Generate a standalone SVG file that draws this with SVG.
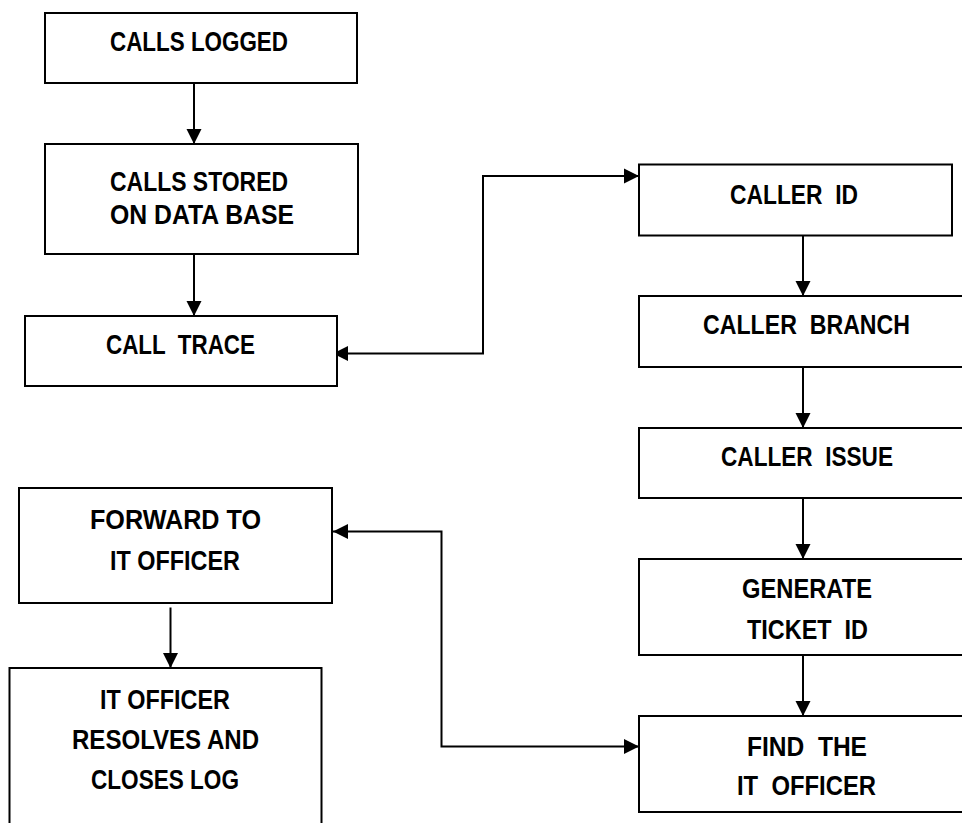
<svg xmlns="http://www.w3.org/2000/svg" width="962" height="823" viewBox="0 0 962 823">
<style>
.box{fill:#fff;stroke:#000;stroke-width:2}
.lbl{font-family:"Liberation Sans",Arial,sans-serif;font-weight:bold;font-size:27px;fill:#000}
.con{fill:none;stroke:#000;stroke-width:2}
</style>
<defs>
<marker id="ah" markerUnits="userSpaceOnUse" markerWidth="16" markerHeight="16" refX="15" refY="8" orient="auto-start-reverse">
<path d="M0,0.5 L15,8 L0,15.5 z" fill="#000"/>
</marker>
</defs>
<rect width="962" height="823" fill="#fff"/>
<g id="connectors">
<line class="con" x1="194" y1="83" x2="194" y2="144" marker-end="url(#ah)"/>
<line class="con" x1="194" y1="254" x2="194" y2="316" marker-end="url(#ah)"/>
<path class="con" d="M333,353.5 H483 V176 H639" marker-start="url(#ah)" marker-end="url(#ah)"/>
<line class="con" x1="803" y1="235.5" x2="803" y2="296" marker-end="url(#ah)"/>
<line class="con" x1="803" y1="367" x2="803" y2="428" marker-end="url(#ah)"/>
<line class="con" x1="803" y1="498" x2="803" y2="559" marker-end="url(#ah)"/>
<line class="con" x1="803" y1="655" x2="803" y2="716" marker-end="url(#ah)"/>
<path class="con" d="M333,531.5 H441.5 V746.5 H639" stroke-width="1.6" marker-start="url(#ah)" marker-end="url(#ah)"/>
<line class="con" x1="170.5" y1="607.5" x2="170.5" y2="668" stroke-width="1.6" marker-end="url(#ah)"/>
</g>
<g id="calls-logged">
<rect class="box" x="45" y="13" width="312" height="70"/>
<text class="lbl" x="110" y="51" textLength="178" lengthAdjust="spacingAndGlyphs">CALLS LOGGED</text>
</g>
<g id="calls-stored">
<rect class="box" x="45" y="144" width="313" height="110"/>
<text class="lbl" x="110" y="191" textLength="178" lengthAdjust="spacingAndGlyphs">CALLS STORED</text>
<text class="lbl" x="110" y="224" textLength="184" lengthAdjust="spacingAndGlyphs">ON DATA BASE</text>
</g>
<g id="call-trace">
<rect class="box" x="25" y="316" width="312" height="70"/>
<text class="lbl" x="106" y="353.5" textLength="149" lengthAdjust="spacingAndGlyphs" xml:space="preserve">CALL  TRACE</text>
</g>
<g id="caller-id">
<rect class="box" x="639" y="164.5" width="313" height="71"/>
<text class="lbl" x="730" y="203.5" textLength="128" lengthAdjust="spacingAndGlyphs" xml:space="preserve">CALLER  ID</text>
</g>
<g id="caller-branch">
<rect class="box" x="639" y="296" width="330" height="71"/>
<text class="lbl" x="703" y="333.5" textLength="207" lengthAdjust="spacingAndGlyphs" xml:space="preserve">CALLER  BRANCH</text>
</g>
<g id="caller-issue">
<rect class="box" x="639" y="428" width="330" height="70"/>
<text class="lbl" x="721" y="466" textLength="172" lengthAdjust="spacingAndGlyphs" xml:space="preserve">CALLER  ISSUE</text>
</g>
<g id="generate-ticket">
<rect class="box" x="639" y="559" width="330" height="96"/>
<text class="lbl" x="742" y="597.5" textLength="130" lengthAdjust="spacingAndGlyphs">GENERATE</text>
<text class="lbl" x="747" y="638.5" textLength="121" lengthAdjust="spacingAndGlyphs" xml:space="preserve">TICKET  ID</text>
</g>
<g id="find-officer">
<rect class="box" x="639" y="716" width="330" height="96"/>
<text class="lbl" x="747" y="756" textLength="120" lengthAdjust="spacingAndGlyphs" xml:space="preserve">FIND  THE</text>
<text class="lbl" x="737" y="795" textLength="139" lengthAdjust="spacingAndGlyphs" xml:space="preserve">IT  OFFICER</text>
</g>
<g id="forward-officer">
<rect class="box" x="19" y="488" width="313" height="115"/>
<text class="lbl" x="90" y="528.5" textLength="171" lengthAdjust="spacingAndGlyphs">FORWARD TO</text>
<text class="lbl" x="110" y="569.5" textLength="130" lengthAdjust="spacingAndGlyphs">IT OFFICER</text>
</g>
<g id="officer-resolves">
<rect class="box" x="9.5" y="668" width="312" height="170"/>
<text class="lbl" x="100" y="708.5" textLength="130" lengthAdjust="spacingAndGlyphs">IT OFFICER</text>
<text class="lbl" x="72" y="748.5" textLength="187" lengthAdjust="spacingAndGlyphs">RESOLVES AND</text>
<text class="lbl" x="91" y="788.5" textLength="148" lengthAdjust="spacingAndGlyphs">CLOSES LOG</text>
</g>
</svg>
